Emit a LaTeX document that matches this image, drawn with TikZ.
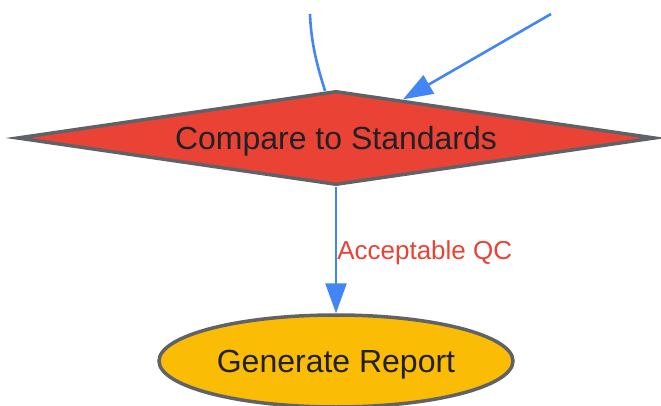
\documentclass[tikz,border=0pt]{standalone}
\usepackage{fontspec}
\setmainfont{Liberation Sans}
\usetikzlibrary{shapes.geometric, arrows.meta}
\definecolor{gblue}{HTML}{4285F4}
\definecolor{gred}{HTML}{EA4335}
\definecolor{gyellow}{HTML}{FBBC05}
\definecolor{gborder}{HTML}{5F6368}
\definecolor{gtext}{HTML}{202124}

\begin{document}
\begin{tikzpicture}[x=1pt, y=-1pt,
    decision/.style={diamond, draw=gborder, fill=gred, line width=3.5pt, aspect=6.8, inner sep=0pt,
        minimum width=638pt, minimum height=94pt, text=gtext, text depth=0pt,
        font=\fontsize{32}{38}\selectfont},
    terminal/.style={ellipse, draw=gborder, fill=gyellow, line width=3.5pt, inner sep=0pt,
        minimum width=354pt, minimum height=92pt, text=gtext, text depth=0pt,
        font=\fontsize{32}{38}\selectfont},
    link/.style={draw=gblue, line width=2.6pt},
    flow/.style={link, -{Triangle[length=30pt, width=21pt]}}
    ]
    \useasboundingbox (0,0) rectangle (661,406);

    \node[decision] (cmp) at (336,138) {Compare to Standards};
    \node[terminal] (rep) at (336,361) {Generate Report};

    % loose ends coming in from above
    \coordinate (in1) at (310,14);
    \coordinate (in2) at (551,14);

    \path[link] (in1) .. controls (311,42) and (317,66) .. (cmp.103);
    \path[flow] (in2) -- (cmp);

    \path[flow] (cmp) -- node[midway, right, inner sep=0pt, text=gred, text depth=0pt,
        font=\fontsize{26}{30}\selectfont] {Acceptable QC} (rep);
\end{tikzpicture}
\end{document}
